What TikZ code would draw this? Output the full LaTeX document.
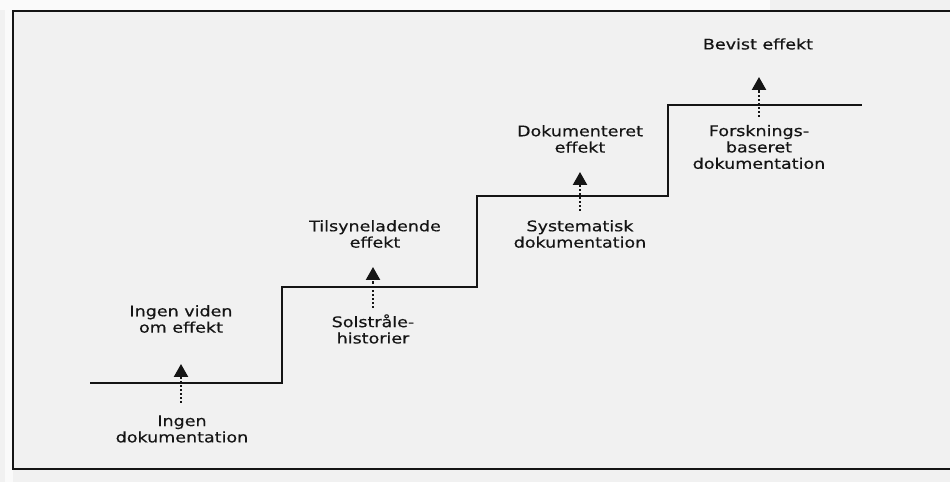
\documentclass[tikz,border=0pt]{standalone}
\usepackage{fontspec}
\usetikzlibrary{arrows.meta, positioning}
\newfontfamily\stairfont[FakeStretch=1.2, FakeBold=0.4]{DejaVu Sans}
\definecolor{paper}{HTML}{F1F1F1}
\definecolor{margin}{HTML}{FAFAFA}
\definecolor{inkblack}{HTML}{151515}
\tikzset{
    lbl/.style={align=center, font=\stairfont\fontsize{8.3}{9.3}\selectfont, text=inkblack, inner sep=0pt},
    frameline/.style={line width=1.3pt, draw=inkblack},
    stairline/.style={line width=1.3pt, draw=inkblack},
    uparrow/.style={-{Triangle[length=2.6mm, width=2.8mm]}, densely dotted, line width=1.3pt, draw=inkblack}
}

\begin{document}
\begin{tikzpicture}[x=0.02cm, y=-0.02cm]
        \useasboundingbox[fill=paper] (0,0) rectangle (950,482);
        \clip (0,0) rectangle (950,482);
        \fill[margin] (0,0) rectangle (770,10);
        \fill[margin] (5,0) rectangle (13,482);
        % frame, cut off at the right edge
        \coordinate (ftl) at (13,11);
        \coordinate (fbl) at (13,469);
        \coordinate (ftr) at (960,11);
        \coordinate (fbr) at (960,469);
        \draw[frameline] (ftr) -- (ftl) -- (fbl) -- (fbr);
        % the stair
        \coordinate (s0) at (90,383);
        \coordinate (s1) at (282,287);
        \coordinate (s2) at (477,196);
        \coordinate (s3) at (668,105);
        \coordinate (s4) at (862,105);
        \draw[stairline] (s0) -| (s1) -| (s2) -| (s3) -- (s4);
        % arrows crossing each step
        \coordinate (a1tail) at (181,403);
        \coordinate (a1tip) at (181,364);
        \coordinate (a2tail) at (373,308);
        \coordinate (a2tip) at (373,267);
        \coordinate (a3tail) at (580,211);
        \coordinate (a3tip) at (580,172);
        \coordinate (a4tail) at (759,117);
        \coordinate (a4tip) at (759,77);
        \draw[uparrow] (a1tail) -- (a1tip);
        \draw[uparrow] (a2tail) -- (a2tip);
        \draw[uparrow] (a3tail) -- (a3tip);
        \draw[uparrow] (a4tail) -- (a4tip);
        % effect labels (above) and documentation labels (below)
        \node[lbl] (eff1) at (181,319) {Ingen viden\\om effekt};
        \node[lbl] (doc1) at (182,429) {Ingen\\dokumentation};
        \node[lbl] (eff2) at (375,234) {Tilsyneladende\\effekt};
        \node[lbl] (doc2) at (373,329) {Solstråle-\\historier};
        \node[lbl] (eff3) at (580,139) {Dokumenteret\\effekt};
        \node[lbl] (doc3) at (580,234) {Systematisk\\dokumentation};
        \node[lbl] (eff4) at (758,44) {Bevist effekt};
        \node[lbl] (doc4) at (759,147) {Forsknings-\\baseret\\dokumentation};
    \end{tikzpicture}
\end{document}
